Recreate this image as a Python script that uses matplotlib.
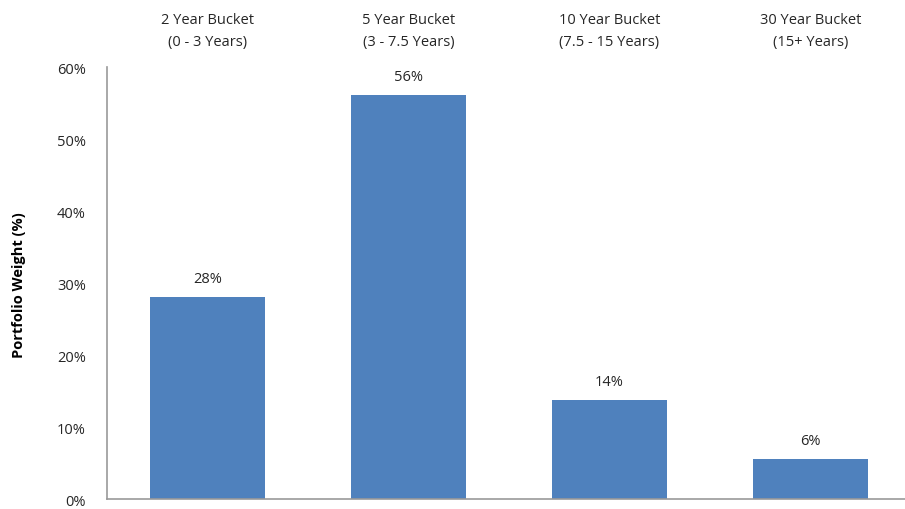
import numpy as np
import matplotlib.pyplot as plt

plt.rcParams['font.family'] = ['Open Sans', 'DejaVu Sans']

buckets = ['2 Year Bucket\n(0 - 3 Years)', '5 Year Bucket\n(3 - 7.5 Years)',
           '10 Year Bucket\n(7.5 - 15 Years)', '30 Year Bucket\n(15+ Years)']
weights = [28.1, 56.1, 13.8, 5.6]
bar_labels = ['28%', '56%', '14%', '6%']
yticks = [0, 10, 20, 30, 40, 50, 60]

txt = '#262626'
fig = plt.figure(figsize=(9.05, 5.10), dpi=100)
ax = fig.add_axes([0.118, 0.0196, 0.882, 0.847])

x = np.arange(len(buckets))
bars = ax.bar(x, weights, width=0.57, color='#4F81BD')
for b, lab in zip(bars, bar_labels):
    ax.annotate(lab, (b.get_x() + b.get_width() / 2, b.get_height()),
                xytext=(0, 8), textcoords='offset points',
                ha='center', va='bottom', fontsize=10.5, color=txt)

ax.set_xlim(-0.5, 3.47)
ax.set_ylim(0, 60)
ax.set_yticks(yticks)
ax.set_yticklabels(['{}%'.format(t) for t in yticks], fontsize=10.5, color=txt)
ax.tick_params(axis='y', length=0, pad=15)

ax.xaxis.tick_top()
ax.set_xticks(x)
ax.set_xticklabels(buckets, fontsize=10.5, color=txt, linespacing=1.65)
ax.tick_params(axis='x', length=0, pad=13)

for s in ['top', 'right']:
    ax.spines[s].set_visible(False)
for s in ['left', 'bottom']:
    ax.spines[s].set_color('#999999')
    ax.spines[s].set_linewidth(1.2)

fig.text(0.021, 0.44, 'Portfolio Weight (%)', rotation=90, ha='center', va='center',
         fontsize=10.5, fontweight='bold', color='black')

fig.savefig('out.png', dpi=100)
